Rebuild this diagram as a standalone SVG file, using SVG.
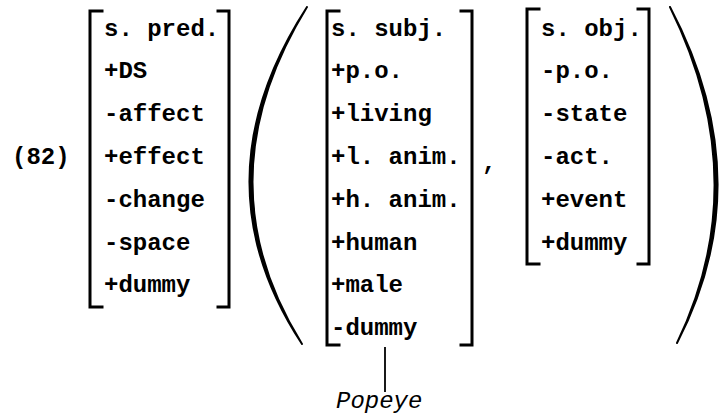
<svg xmlns="http://www.w3.org/2000/svg" width="720" height="416" viewBox="0 0 720 416">
<style>
.t{font-family:"Liberation Mono","Courier New",monospace;font-size:24px;font-weight:bold;fill:#000}
.it{font-family:"Liberation Mono","Courier New",monospace;font-size:24px;font-style:italic;fill:#000}
.br{fill:none;stroke:#000;stroke-width:3;stroke-linecap:square}
.pa{fill:#000;stroke:#000;stroke-width:2;stroke-linejoin:round}
.ln{fill:none;stroke:#000;stroke-width:1.8}
</style>
<rect width="720" height="416" fill="#fff"/>
<g id="label"><text class="t" x="12" y="164">(82)</text></g>
<g id="pred">
<path class="br" d="M102,11 H90 V307 H102 M218,11 H229 V307 H218"/>
<text class="t" x="104" y="35.5">s. pred.</text>
<text class="t" x="104" y="78.3">+DS</text>
<text class="t" x="104" y="121.1">-affect</text>
<text class="t" x="104" y="163.9">+effect</text>
<text class="t" x="104" y="206.7">-change</text>
<text class="t" x="104" y="249.5">-space</text>
<text class="t" x="104" y="292.3">+dummy</text>
</g>
<g id="paren-left"><path class="pa" d="M307,7 Q194.5,180.5 302,344 Q200.5,180.5 307,7 Z"/></g>
<g id="subj">
<path class="br" d="M339,11 H327 V345 H339 M461,11 H472 V345 H461"/>
<text class="t" x="331" y="35.5">s. subj.</text>
<text class="t" x="331" y="78.3">+p.o.</text>
<text class="t" x="331" y="121.1">+living</text>
<text class="t" x="331" y="163.9">+l. anim.</text>
<text class="t" x="331" y="206.7">+h. anim.</text>
<text class="t" x="331" y="249.5">+human</text>
<text class="t" x="331" y="292.3">+male</text>
<text class="t" x="331" y="335.1">-dummy</text>
</g>
<g id="comma"><text class="t" x="482" y="170">,</text></g>
<g id="obj">
<path class="br" d="M539,9 H527 V264 H539 M638,9 H649 V264 H638"/>
<text class="t" x="541" y="35.5">s. obj.</text>
<text class="t" x="541" y="78.3">-p.o.</text>
<text class="t" x="541" y="121.1">-state</text>
<text class="t" x="541" y="163.9">-act.</text>
<text class="t" x="541" y="206.7">+event</text>
<text class="t" x="541" y="249.5">+dummy</text>
</g>
<g id="paren-right"><path class="pa" d="M670,7 Q761.5,180.5 677,343 Q755.5,180.5 670,7 Z"/></g>
<g id="connectors"><line class="ln" x1="385" y1="347" x2="385" y2="392"/></g>
<g id="popeye"><text class="it" x="336" y="408">Popeye</text></g>
</svg>
